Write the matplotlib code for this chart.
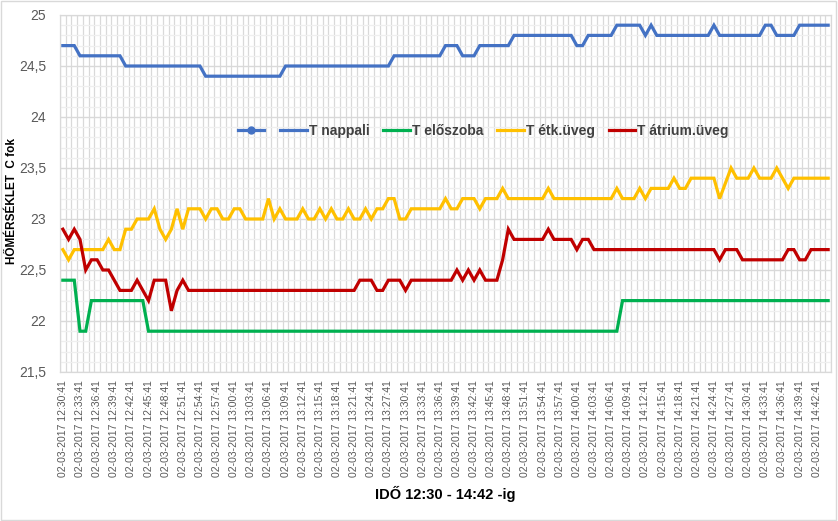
import matplotlib
matplotlib.use("Agg")
import matplotlib.pyplot as plt
import numpy as np
import pandas as pd
from matplotlib.lines import Line2D
from matplotlib.patches import Rectangle
from matplotlib.ticker import MultipleLocator, FixedLocator, FuncFormatter

plt.rcParams["font.family"] = ["Liberation Sans", "DejaVu Sans"]

# ---------------------------------------------------------------------------
# Data (one reading per minute, 12:30:41 - 14:44:41)
# ---------------------------------------------------------------------------
times = pd.date_range("2017-03-02 12:30:41", periods=135, freq="1min")
time_labels = [t.strftime("%d-%m-%Y %H:%M:%S") for t in times]

t_nappali = [
    24.7, 24.7, 24.7, 24.6, 24.6, 24.6, 24.6, 24.6, 24.6, 24.6,
    24.6, 24.5, 24.5, 24.5, 24.5, 24.5, 24.5, 24.5, 24.5, 24.5,
    24.5, 24.5, 24.5, 24.5, 24.5, 24.4, 24.4, 24.4, 24.4, 24.4,
    24.4, 24.4, 24.4, 24.4, 24.4, 24.4, 24.4, 24.4, 24.4, 24.5,
    24.5, 24.5, 24.5, 24.5, 24.5, 24.5, 24.5, 24.5, 24.5, 24.5,
    24.5, 24.5, 24.5, 24.5, 24.5, 24.5, 24.5, 24.5, 24.6, 24.6,
    24.6, 24.6, 24.6, 24.6, 24.6, 24.6, 24.6, 24.7, 24.7, 24.7,
    24.6, 24.6, 24.6, 24.7, 24.7, 24.7, 24.7, 24.7, 24.7, 24.8,
    24.8, 24.8, 24.8, 24.8, 24.8, 24.8, 24.8, 24.8, 24.8, 24.8,
    24.7, 24.7, 24.8, 24.8, 24.8, 24.8, 24.8, 24.9, 24.9, 24.9,
    24.9, 24.9, 24.8, 24.9, 24.8, 24.8, 24.8, 24.8, 24.8, 24.8,
    24.8, 24.8, 24.8, 24.8, 24.9, 24.8, 24.8, 24.8, 24.8, 24.8,
    24.8, 24.8, 24.8, 24.9, 24.9, 24.8, 24.8, 24.8, 24.8, 24.9,
    24.9, 24.9, 24.9, 24.9, 24.9,
]

t_eloszoba = [
    22.4, 22.4, 22.4, 21.9, 21.9, 22.2, 22.2, 22.2, 22.2, 22.2,
    22.2, 22.2, 22.2, 22.2, 22.2, 21.9, 21.9, 21.9, 21.9, 21.9,
    21.9, 21.9, 21.9, 21.9, 21.9, 21.9, 21.9, 21.9, 21.9, 21.9,
    21.9, 21.9, 21.9, 21.9, 21.9, 21.9, 21.9, 21.9, 21.9, 21.9,
    21.9, 21.9, 21.9, 21.9, 21.9, 21.9, 21.9, 21.9, 21.9, 21.9,
    21.9, 21.9, 21.9, 21.9, 21.9, 21.9, 21.9, 21.9, 21.9, 21.9,
    21.9, 21.9, 21.9, 21.9, 21.9, 21.9, 21.9, 21.9, 21.9, 21.9,
    21.9, 21.9, 21.9, 21.9, 21.9, 21.9, 21.9, 21.9, 21.9, 21.9,
    21.9, 21.9, 21.9, 21.9, 21.9, 21.9, 21.9, 21.9, 21.9, 21.9,
    21.9, 21.9, 21.9, 21.9, 21.9, 21.9, 21.9, 21.9, 22.2, 22.2,
    22.2, 22.2, 22.2, 22.2, 22.2, 22.2, 22.2, 22.2, 22.2, 22.2,
    22.2, 22.2, 22.2, 22.2, 22.2, 22.2, 22.2, 22.2, 22.2, 22.2,
    22.2, 22.2, 22.2, 22.2, 22.2, 22.2, 22.2, 22.2, 22.2, 22.2,
    22.2, 22.2, 22.2, 22.2, 22.2,
]

t_etk_uveg = [
    22.7, 22.6, 22.7, 22.7, 22.7, 22.7, 22.7, 22.7, 22.8, 22.7,
    22.7, 22.9, 22.9, 23.0, 23.0, 23.0, 23.1, 22.9, 22.8, 22.9,
    23.1, 22.9, 23.1, 23.1, 23.1, 23.0, 23.1, 23.1, 23.0, 23.0,
    23.1, 23.1, 23.0, 23.0, 23.0, 23.0, 23.2, 23.0, 23.1, 23.0,
    23.0, 23.0, 23.1, 23.0, 23.0, 23.1, 23.0, 23.1, 23.0, 23.0,
    23.1, 23.0, 23.0, 23.1, 23.0, 23.1, 23.1, 23.2, 23.2, 23.0,
    23.0, 23.1, 23.1, 23.1, 23.1, 23.1, 23.1, 23.2, 23.1, 23.1,
    23.2, 23.2, 23.2, 23.1, 23.2, 23.2, 23.2, 23.3, 23.2, 23.2,
    23.2, 23.2, 23.2, 23.2, 23.2, 23.3, 23.2, 23.2, 23.2, 23.2,
    23.2, 23.2, 23.2, 23.2, 23.2, 23.2, 23.2, 23.3, 23.2, 23.2,
    23.2, 23.3, 23.2, 23.3, 23.3, 23.3, 23.3, 23.4, 23.3, 23.3,
    23.4, 23.4, 23.4, 23.4, 23.4, 23.2, 23.35, 23.5, 23.4, 23.4,
    23.4, 23.5, 23.4, 23.4, 23.4, 23.5, 23.4, 23.3, 23.4, 23.4,
    23.4, 23.4, 23.4, 23.4, 23.4,
]

t_atrium_uveg = [
    22.9, 22.8, 22.9, 22.8, 22.5, 22.6, 22.6, 22.5, 22.5, 22.4,
    22.3, 22.3, 22.3, 22.4, 22.3, 22.2, 22.4, 22.4, 22.4, 22.1,
    22.3, 22.4, 22.3, 22.3, 22.3, 22.3, 22.3, 22.3, 22.3, 22.3,
    22.3, 22.3, 22.3, 22.3, 22.3, 22.3, 22.3, 22.3, 22.3, 22.3,
    22.3, 22.3, 22.3, 22.3, 22.3, 22.3, 22.3, 22.3, 22.3, 22.3,
    22.3, 22.3, 22.4, 22.4, 22.4, 22.3, 22.3, 22.4, 22.4, 22.4,
    22.3, 22.4, 22.4, 22.4, 22.4, 22.4, 22.4, 22.4, 22.4, 22.5,
    22.4, 22.5, 22.4, 22.5, 22.4, 22.4, 22.4, 22.6, 22.9, 22.8,
    22.8, 22.8, 22.8, 22.8, 22.8, 22.9, 22.8, 22.8, 22.8, 22.8,
    22.7, 22.8, 22.8, 22.7, 22.7, 22.7, 22.7, 22.7, 22.7, 22.7,
    22.7, 22.7, 22.7, 22.7, 22.7, 22.7, 22.7, 22.7, 22.7, 22.7,
    22.7, 22.7, 22.7, 22.7, 22.7, 22.6, 22.7, 22.7, 22.7, 22.6,
    22.6, 22.6, 22.6, 22.6, 22.6, 22.6, 22.6, 22.7, 22.7, 22.6,
    22.6, 22.7, 22.7, 22.7, 22.7,
]

series = [
    ("T nappali", t_nappali, "#4472C4"),
    ("T előszoba", t_eloszoba, "#00B050"),
    ("T étk.üveg", t_etk_uveg, "#FFC000"),
    ("T átrium.üveg", t_atrium_uveg, "#C00000"),
]

# ---------------------------------------------------------------------------
# Figure
# ---------------------------------------------------------------------------
W, H = 838, 521
fig = plt.figure(figsize=(W / 100, H / 100), dpi=100)
ax = fig.add_axes([60 / W, (H - 372) / H, 771 / W, 357 / H])

x = np.arange(len(times))
for name, vals, col in series:
    ax.plot(x, vals, color=col, linewidth=2.3, solid_joinstyle="miter", zorder=3)

ax.set_xlim(-0.5, len(times) - 0.5)
ax.set_ylim(21.5, 25)

# category gridlines between points, labels every 3rd reading
ax.xaxis.set_minor_locator(FixedLocator(np.arange(len(times) + 1) - 0.5))
ax.set_xticks(x[::3])
ax.set_xticklabels(time_labels[::3], rotation=90, fontsize=7.5, color="#595959")
ax.yaxis.set_major_locator(MultipleLocator(0.5))
ax.yaxis.set_minor_locator(MultipleLocator(0.1))
ax.yaxis.set_major_formatter(FuncFormatter(lambda v, p: f"{v:g}".replace(".", ",")))
ax.tick_params(axis="y", labelsize=10, colors="#595959", length=0, pad=10)
ax.tick_params(axis="x", length=0, pad=6)
ax.tick_params(which="minor", length=0)

ax.grid(True, axis="x", which="minor", color="#d9d9d9", linewidth=0.9, zorder=0)
ax.grid(True, axis="y", which="major", color="#d9d9d9", linewidth=1.0, zorder=0)
ax.grid(True, axis="y", which="minor", color="#efefef", linewidth=0.9, zorder=0)
ax.grid(False, axis="x", which="major")
ax.set_axisbelow(True)
for sp in ax.spines.values():
    sp.set_color("#d9d9d9")
    sp.set_linewidth(0.9)

ax.set_ylabel("HŐMÉRSÉKLET  C fok", fontsize=8.5, fontweight="bold", color="black")
ax.yaxis.set_label_coords(-0.054, 0.479)
ax.set_xlabel("IDŐ 12:30 - 14:42 -ig", fontsize=10.5, fontweight="bold", color="black")
ax.xaxis.set_label_coords(0.5, -0.32)

# legend (first entry is an unnamed marker series)
handles = [Line2D([], [], color="#4472C4", linewidth=2.3, marker="o", markersize=5)]
labels = [""]
for name, vals, col in series:
    handles.append(Line2D([], [], color=col, linewidth=2.3))
    labels.append(name)
leg = ax.legend(handles, labels, ncol=5, frameon=False, loc="center",
                bbox_to_anchor=(0.549, 0.675), handlelength=1.9, handletextpad=0.15,
                columnspacing=1.0, prop={"size": 10, "weight": "bold"})
for t in leg.get_texts():
    t.set_color("#404040")

fig.patches.append(Rectangle((0.001, 0.001), 0.997, 0.997, transform=fig.transFigure,
                             fill=False, edgecolor="#d9d9d9", linewidth=1))

fig.savefig("out.png", dpi=100)
